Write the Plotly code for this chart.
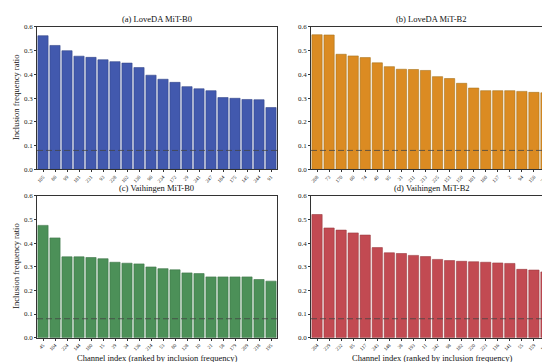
import plotly.graph_objects as go

titles = ["(a) LoveDA MiT-B0", "(b) LoveDA MiT-B2", "(c) Vaihingen MiT-B0", "(d) Vaihingen MiT-B2"]

labels_a = ["105","86","99","181","231","93","228","102","136","96","234","172","29","241","247","184","175","145","244","91"]
values_a = [0.562,0.521,0.499,0.476,0.471,0.461,0.453,0.447,0.428,0.396,0.379,0.366,0.348,0.339,0.331,0.302,0.299,0.294,0.293,0.260]

labels_b = ["208","73","170","60","74","40","95","31","211","213","225","151","150","101","160","137","2","94","156","237"]
values_b = [0.566,0.565,0.484,0.477,0.470,0.448,0.432,0.421,0.420,0.416,0.390,0.382,0.362,0.342,0.331,0.331,0.331,0.328,0.324,0.322]

labels_c = ["45","104","224","144","180","15","39","34","136","214","53","80","128","10","21","58","179","209","218","195"]
values_c = [0.475,0.422,0.342,0.342,0.339,0.334,0.319,0.315,0.312,0.299,0.292,0.287,0.274,0.271,0.257,0.257,0.257,0.257,0.246,0.239]

labels_d = ["204","239","232","85","117","243","148","38","193","11","242","98","182","220","223","116","141","55","159","169"]
values_d = [0.521,0.464,0.455,0.443,0.434,0.381,0.359,0.356,0.348,0.343,0.331,0.326,0.323,0.321,0.319,0.316,0.314,0.289,0.286,0.278]

threshold = 0.08

colors = ["#4259AE", "#DB8B22", "#4C9058", "#C24A52"]
edges = ["#34468A", "#A8741C", "#3C7346", "#9A3A40"]

W, H = 550, 362
xdoms = [[29/W, 269/W], [303/W, 544/W]]
ydoms = [[1-161/H, 1-15/H], [1-333/H, 1-188/H]]

panels = [(labels_a, values_a), (labels_b, values_b), (labels_c, values_c), (labels_d, values_d)]

fig = go.Figure()
font = "Liberation Serif, Times New Roman, serif"
annotations = []
for i, (labs, vals) in enumerate(panels):
    r, c = divmod(i, 2)
    n = i + 1
    xa = "x" if n == 1 else f"x{n}"
    ya = "y" if n == 1 else f"y{n}"
    pos = list(range(len(vals)))
    fig.add_trace(go.Bar(x=pos, y=vals, xaxis=xa, yaxis=ya, width=0.85,
                         marker=dict(color=colors[i], line=dict(color=edges[i], width=0.6)),
                         showlegend=False))
    fig.add_trace(go.Scatter(x=[-0.5, len(vals)-0.5], y=[threshold, threshold], xaxis=xa, yaxis=ya,
                             mode="lines", line=dict(color="#444444", width=0.8, dash="6px,3px"),
                             showlegend=False, hoverinfo="skip"))
    axk = "xaxis" if n == 1 else f"xaxis{n}"
    ayk = "yaxis" if n == 1 else f"yaxis{n}"
    fig.layout[axk] = dict(domain=xdoms[c], anchor=ya, range=[-0.5, len(vals)-0.5],
                           tickvals=pos, ticktext=labs, tickangle=-45,
                           tickfont=dict(size=5, family=font, color="#222"),
                           ticks="outside", ticklen=2, tickwidth=0.6, tickcolor="#333",
                           showline=True, linecolor="#333", linewidth=0.8, mirror=True,
                           showgrid=False, zeroline=False)
    fig.layout[ayk] = dict(domain=ydoms[r], anchor=xa, range=[0, 0.6],
                           tickvals=[0, 0.1, 0.2, 0.3, 0.4, 0.5, 0.6], tickformat=".1f",
                           tickfont=dict(size=7, family=font, color="#222"),
                           ticks="outside", ticklen=2, tickwidth=0.6, tickcolor="#333",
                           showline=True, linecolor="#333", linewidth=0.8, mirror=True,
                           showgrid=False, zeroline=False)
    xm = (xdoms[c][0] + xdoms[c][1]) / 2
    annotations.append(dict(text=titles[i], x=xm, y=ydoms[r][1], xref="paper", yref="paper",
                            xanchor="center", yanchor="bottom", yshift=1, showarrow=False,
                            font=dict(size=8.5, family=font, color="#111")))
    if c == 0:
        annotations.append(dict(text="Inclusion frequency ratio", x=8/W, y=(ydoms[r][0]+ydoms[r][1])/2,
                                xref="paper", yref="paper", textangle=-90, showarrow=False,
                                xanchor="center", yanchor="middle",
                                font=dict(size=8.5, family=font, color="#111")))
    if r == 1:
        annotations.append(dict(text="Channel index (ranked by inclusion frequency)", x=xm, y=0,
                                xref="paper", yref="paper", showarrow=False,
                                xanchor="center", yanchor="bottom", yshift=1,
                                font=dict(size=8.5, family=font, color="#111")))

fig.update_layout(width=W, height=H, margin=dict(l=0, r=0, t=0, b=0),
                  paper_bgcolor="white", plot_bgcolor="white", annotations=annotations,
                  bargap=0.15)
fig.write_html("out.html")
